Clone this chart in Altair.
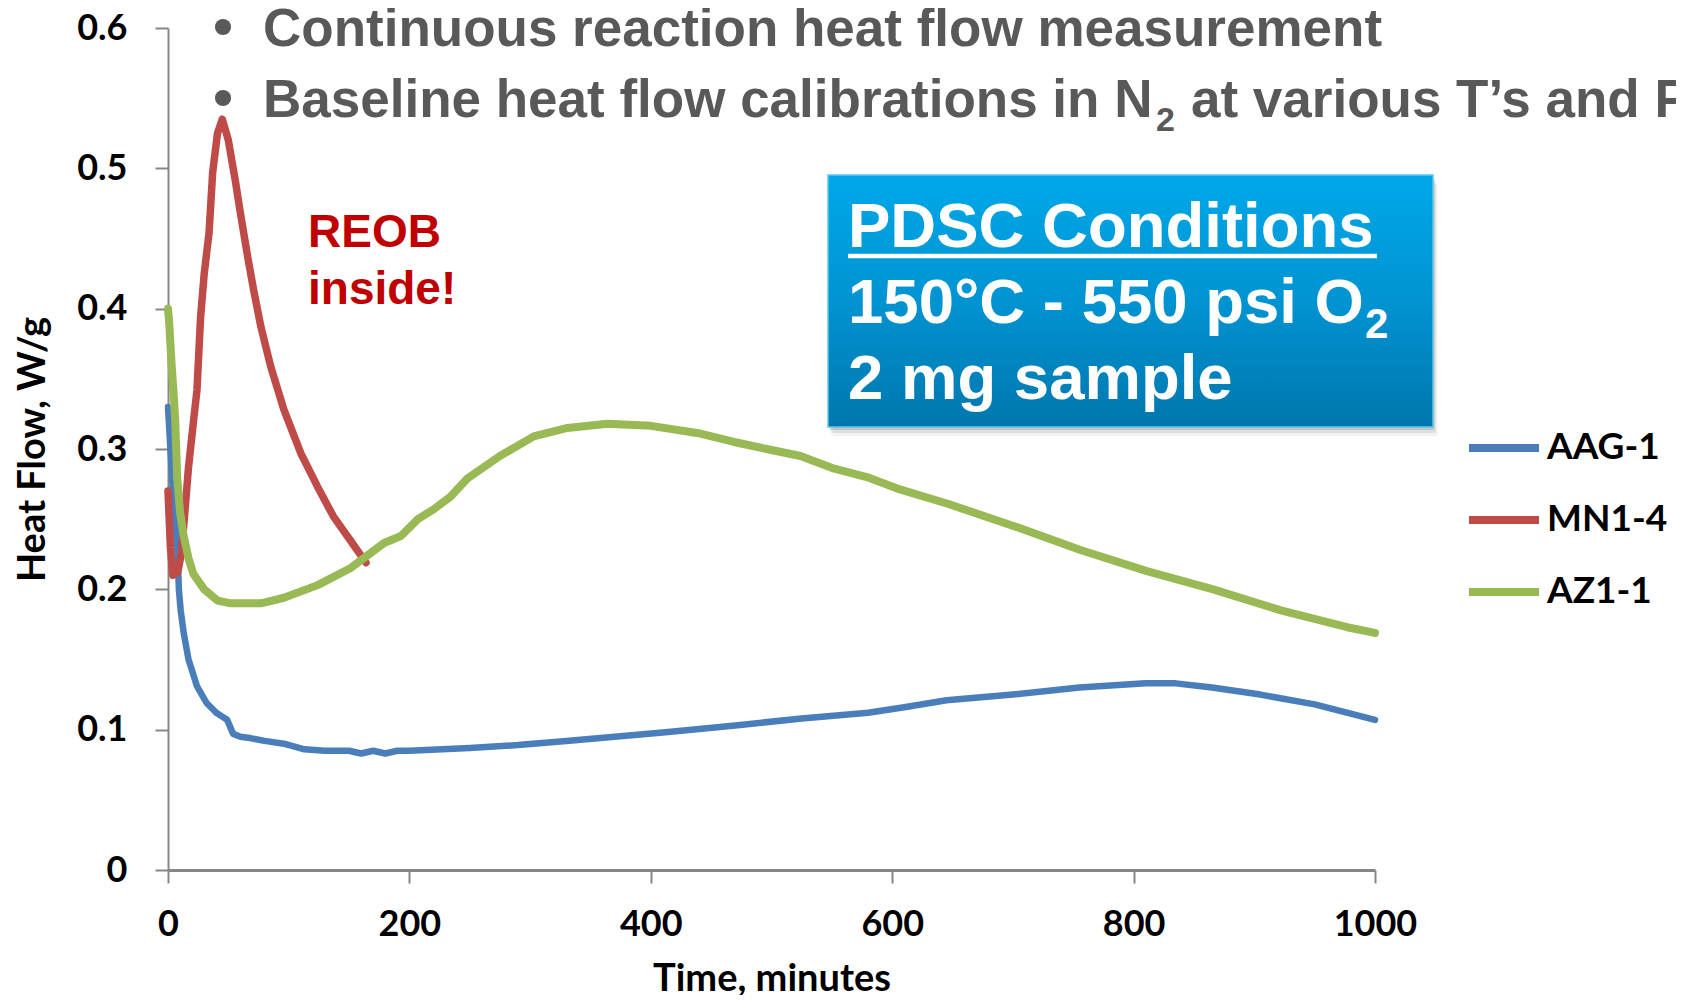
import altair as alt
import pandas as pd

# ---------------- data ----------------
series_names = ["AAG-1", "MN1-4", "AZ1-1"]
series_colors = ["#4a7ebb", "#be4b48", "#98b954"]

aag_t = [0, 2, 4, 6, 8, 9, 10.5, 13, 17, 20, 24, 28, 32, 40, 49, 54, 60, 68, 80, 96, 113, 130,
         150, 160, 170, 180, 190, 200, 250, 290, 330, 370, 410, 470, 525, 580, 610, 645, 700,
         755, 810, 835, 865, 905, 950, 1000]
aag_v = [0.33, 0.30, 0.27, 0.25, 0.225, 0.20, 0.185, 0.169, 0.15, 0.142, 0.131, 0.125, 0.119,
         0.112, 0.107, 0.097, 0.095, 0.094, 0.092, 0.090, 0.086, 0.085, 0.085, 0.083, 0.085,
         0.083, 0.085, 0.085, 0.087, 0.089, 0.092, 0.095, 0.098, 0.103, 0.108, 0.112, 0.116,
         0.121, 0.125, 0.130, 0.133, 0.133, 0.130, 0.125, 0.118, 0.107]

mn_t = [0, 2, 4, 8, 11, 13, 17, 20, 24, 27, 30, 34, 37, 41, 45, 50, 56, 60, 66, 71, 77, 85,
        96, 110, 124, 137, 151, 164]
mn_v = [0.27, 0.23, 0.21, 0.212, 0.225, 0.245, 0.287, 0.311, 0.342, 0.394, 0.425, 0.454,
        0.497, 0.525, 0.535, 0.52, 0.49, 0.468, 0.437, 0.413, 0.387, 0.359, 0.328, 0.297,
        0.273, 0.252, 0.235, 0.219]

az_t = [0, 1, 3, 5, 6, 7.6, 10, 13, 17, 21, 30, 41, 52, 65, 77, 96, 124, 151, 179, 193, 207,
        220, 234, 248, 275, 303, 331, 364, 400, 441, 469, 496, 524, 552, 579, 607, 646, 701,
        756, 811, 866, 922, 977, 1000]
az_v = [0.40, 0.39, 0.36, 0.335, 0.32, 0.28, 0.255, 0.238, 0.222, 0.211, 0.200, 0.192, 0.190,
        0.190, 0.190, 0.194, 0.203, 0.215, 0.233, 0.238, 0.250, 0.257, 0.266, 0.279, 0.295,
        0.309, 0.315, 0.318, 0.3165, 0.311, 0.305, 0.300, 0.295, 0.286, 0.280, 0.271, 0.261,
        0.245, 0.228, 0.213, 0.200, 0.185, 0.173, 0.169]

x_ticks = [0, 200, 400, 600, 800, 1000]
y_ticks = [0, 0.1, 0.2, 0.3, 0.4, 0.5, 0.6]

bullet_1 = "Continuous reaction heat flow measurement"
bullet_2a = "Baseline heat flow calibrations in N"
bullet_2b = "at various T\u2019s and P\u2019s"
sub_2 = "2"
reob_lines = ["REOB", "inside!"]
box_title = "PDSC Conditions"
box_line2 = "150\u00b0C - 550 psi O"
box_line3 = "2 mg sample"

rows = []
for name, ts, vs in [("AAG-1", aag_t, aag_v), ("MN1-4", mn_t, mn_v), ("AZ1-1", az_t, az_v)]:
    for t, v in zip(ts, vs):
        rows.append({"series": name, "time": t, "flow": v})
df = pd.DataFrame(rows)

AXIS_FONT = "Lato"
TEXT_FONT = "Liberation Sans"

x_enc = alt.X("time:Q", scale=alt.Scale(domain=[0, 1000], nice=False),
              axis=alt.Axis(values=x_ticks, format="d", title="Time, minutes", tickSize=13,
                            labelPadding=24, titlePadding=18, domainWidth=3, tickWidth=2,
                            labelFlush=False))
y_enc = alt.Y("flow:Q", scale=alt.Scale(domain=[0, 0.6], nice=False),
              axis=alt.Axis(values=y_ticks, format="~g", title="Heat Flow, W/g", tickSize=13,
                            labelPadding=28, titlePadding=24, domainWidth=2, tickWidth=2,
                            labelFlush=False))
color_enc = alt.Color("series:N",
                      scale=alt.Scale(domain=series_names, range=series_colors),
                      legend=alt.Legend(orient="none", legendX=1297, legendY=381, title=None,
                                        symbolType="stroke", symbolSize=4900,
                                        symbolStrokeWidth=8, labelFont=AXIS_FONT,
                                        labelFontSize=37, labelFontWeight="bold",
                                        labelColor="black", labelOffset=4, rowPadding=15,
                                        padding=0))

widths = {"AAG-1": 6.5, "MN1-4": 7.5, "AZ1-1": 8}
line_layers = []
for name in series_names:
    line_layers.append(
        alt.Chart(df).transform_filter(alt.datum.series == name)
        .mark_line(strokeWidth=widths[name], strokeJoin="round", strokeCap="round")
        .encode(x=x_enc, y=y_enc, color=color_enc, order="time:Q")
    )

one = pd.DataFrame({"k": [0]})


def txt(s, x, y, size, color, font=TEXT_FONT, weight="bold"):
    return alt.Chart(one).mark_text(
        align="left", baseline="alphabetic", font=font, fontSize=size, fontWeight=weight,
        color=color
    ).encode(x=alt.value(x), y=alt.value(y), text=alt.value(s))


def dot(x, y, color):
    return alt.Chart(one).mark_point(
        shape="circle", filled=True, size=260, color=color, opacity=1
    ).encode(x=alt.value(x), y=alt.value(y))


GRAY = "#595959"
WHITE = "#ffffff"

top_texts = [
    dot(55, -1, GRAY),
    dot(55, 70, GRAY),
    txt(bullet_1, 95, 18, 53, GRAY),
    txt(bullet_2a, 95, 89, 53, GRAY),
    txt(sub_2, 988, 103, 34, GRAY),
    txt(bullet_2b, 1023, 89, 53, GRAY),
]

reob = [txt(reob_lines[0], 140, 219, 46, "#c00000"),
        txt(reob_lines[1], 140, 276, 46, "#c00000")]

# box
shadows = []
for off, op in [(9, 0.05), (6, 0.08), (3, 0.12)]:
    shadows.append(
        alt.Chart(one).mark_rect(color="#000000", opacity=op).encode(
            x=alt.value(660 + off / 2), x2=alt.value(1265 + off / 2),
            y=alt.value(147 + off), y2=alt.value(399 + off))
    )
box = alt.Chart(one).mark_rect(
    fill=alt.Gradient(gradient="linear",
                      stops=[alt.GradientStop(color="#00a8e8", offset=0),
                             alt.GradientStop(color="#0093d2", offset=0.5),
                             alt.GradientStop(color="#0077ad", offset=1)],
                      x1=0, x2=0, y1=0, y2=1),
    stroke="#5cc6ee", strokeWidth=1.5
).encode(x=alt.value(660), x2=alt.value(1265), y=alt.value(147), y2=alt.value(399))

underline = alt.Chart(one).mark_rule(color=WHITE, strokeWidth=4.5).encode(
    x=alt.value(680), x2=alt.value(1209), y=alt.value(228))

box_texts = [
    txt(box_title, 680, 219, 63.5, WHITE),
    txt(box_line2, 680, 295, 63.5, WHITE),
    txt(sub_2, 1197, 310, 42, WHITE),
    txt(box_line3, 680, 371, 63.5, WHITE),
]

chart = alt.layer(
    *line_layers, *top_texts, *reob, *shadows, box, underline, *box_texts
).properties(
    width=1207, height=842,
    autosize=alt.AutoSizeParams(type="none"),
    padding={"left": 160, "top": 20, "right": 301, "bottom": 125},
).configure_view(stroke=None).configure_axis(
    grid=False, domainColor="#868686", tickColor="#868686",
    labelFont=AXIS_FONT, labelFontSize=36, labelFontWeight="bold", labelColor="#000000",
    titleFont=AXIS_FONT, titleFontSize=38, titleFontWeight="bold", titleColor="#000000",
)

chart.save("out.html", embed_options={"renderer": "svg", "actions": False})
